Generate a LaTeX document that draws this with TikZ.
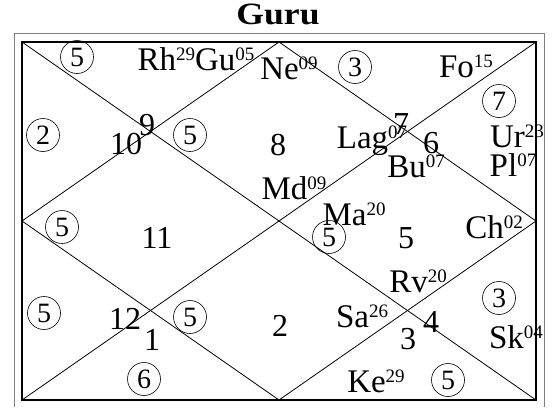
\documentclass[tikz,border=0pt]{standalone}
\usepackage{fontspec}
\setmainfont{Liberation Serif}
\usetikzlibrary{positioning}
% planet with degree
\newcommand{\grh}[2]{#1\raisebox{9.5pt}{\fontsize{19}{19}\selectfont #2}}

\begin{document}
\begin{tikzpicture}[x=1pt,y=-1pt,
  house/.style={font=\fontsize{32}{32}\selectfont,inner sep=0pt},
  graha/.style={font=\fontsize{33}{33}\selectfont,inner sep=0pt,anchor=base},
  ring/.style={circle,draw,line width=0.6pt,minimum size=33pt,inner sep=0pt,font=\fontsize{28}{28}\selectfont}]
\useasboundingbox (0,0) rectangle (556,407);
% frame
\draw[gray,line width=0.8pt] (14,407) -- (14,33) -- (544,33) -- (544,407);
\coordinate (tl) at (22,42);
\coordinate (tr) at (536,42);
\coordinate (br) at (536,400);
\coordinate (bl) at (22,400);
\coordinate (t) at (279,42);
\coordinate (r) at (536,221);
\coordinate (b) at (279,400);
\coordinate (l) at (22,221);
\draw[line width=1.3pt] (tl) rectangle (br);
\draw[line width=0.8pt] (tl) -- (br) (tr) -- (bl);
\draw[line width=0.8pt] (t) -- (r) -- (b) -- (l) -- cycle;
\node[font=\bfseries\fontsize{31}{31}\selectfont,anchor=base,xscale=1.15] (title) at (278,24) {Guru};
% house numbers
\foreach \n/\x/\y [count=\i] in {9/147/125,10/126/144,8/278/145,7/401/124,6/431/143,
  11/157/238,5/406/238,12/125/319,1/152/340,2/280/326,3/408/339,4/431/322}
  \node[house] (h\i) at (\x,\y) {\n};
% circled counts
\foreach \n/\x/\y [count=\i] in {5/77/57,2/43/135,5/190/135,3/355/67,7/499/101,
  5/62/227,5/44/313,5/190/317,6/144/379,5/329/237,3/499/298,5/448/380}
  \node[ring] (c\i) at (\x,\y) {\n};
% planets
\node[graha] (rhgu) at (196,70) {\grh{Rh}{29}\grh{Gu}{05}};
\node[graha] (ne) at (289,79) {\grh{Ne}{09}};
\node[graha] (fo) at (466,77) {\grh{Fo}{15}};
\node[graha] (ur) at (517,147) {\grh{Ur}{23}};
\node[graha] (pl) at (513,176) {\grh{Pl}{07}};
\node[graha] (lag) at (372,148) {\grh{Lag}{07}};
\node[graha] (bu) at (416,177) {\grh{Bu}{07}};
\node[graha] (md) at (294,199) {\grh{Md}{09}};
\node[graha] (ma) at (354,225) {\grh{Ma}{20}};
\node[graha] (ch) at (494,238) {\grh{Ch}{02}};
\node[graha] (rv) at (418,292) {\grh{Rv}{20}};
\node[graha] (sa) at (362,327) {\grh{Sa}{26}};
\node[graha] (sk) at (516,348) {\grh{Sk}{04}};
\node[graha] (ke) at (376,392) {\grh{Ke}{29}};
\end{tikzpicture}
\end{document}
